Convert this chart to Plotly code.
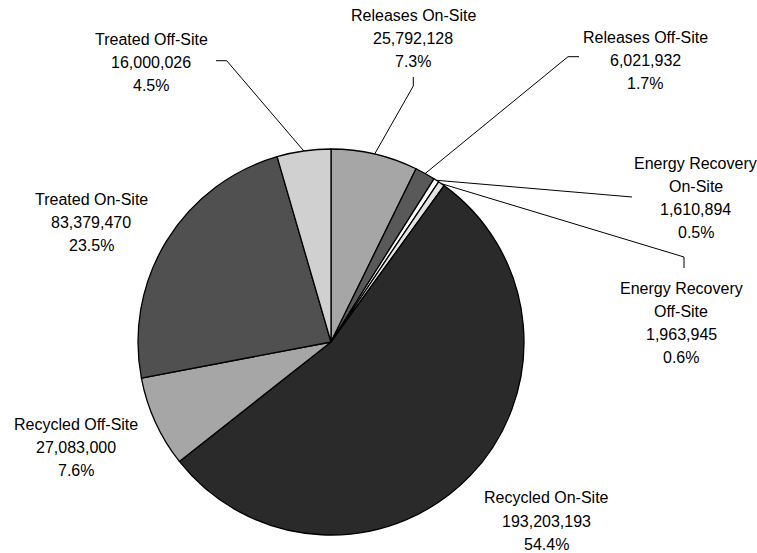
import math
import plotly.graph_objects as go

# Production-related waste by management method (pounds)
categories = [
    "Releases On-Site",
    "Releases Off-Site",
    "Energy Recovery On-Site",
    "Energy Recovery Off-Site",
    "Recycled On-Site",
    "Recycled Off-Site",
    "Treated On-Site",
    "Treated Off-Site",
]
values = [25792128, 6021932, 1610894, 1963945, 193203193, 27083000, 83379470, 16000026]
name_lines = [
    ["Releases On-Site"],
    ["Releases Off-Site"],
    ["Energy Recovery", "On-Site"],
    ["Energy Recovery", "Off-Site"],
    ["Recycled On-Site"],
    ["Recycled Off-Site"],
    ["Treated On-Site"],
    ["Treated Off-Site"],
]
slice_colors = ["#a6a6a6", "#595959", "#ffffff", "#e3e3e3",
                "#2a2a2a", "#a6a6a6", "#505050", "#d0d0d0"]

W, H = 757, 553
CX, CY, R = 331, 342, 193          # pie centre and radius, in pixels

# label block: centre x, first-line y (pixels)
label_pos = [
    (413.5, 15.5), (645, 37.5), (695.5, 163.5), (681, 288),
    (546, 498), (75.5, 424.5), (91, 199.5), (151, 39.5),
]
LINE_STEP = 23

# leader-line bend points (pixels), listed from the label side toward the pie
leader_bends = {
    0: [(413.3, 77), (413.3, 86)],
    1: [(579, 56.7), (568, 56.7)],
    2: [(632, 197)],
    3: [(684, 268), (684, 257)],
    7: [(216, 60.7), (226.7, 60.7)],
}


def px(x):
    return x / W


def py(y):
    return 1 - y / H


total = sum(values)

fig = go.Figure(go.Pie(
    labels=categories,
    values=values,
    sort=False,
    direction="clockwise",
    rotation=0,
    marker=dict(colors=slice_colors, line=dict(color="#000000", width=1.3)),
    textinfo="none",
    hoverinfo="label+value+percent",
    showlegend=False,
    domain=dict(x=[px(CX - R), px(CX + R)], y=[py(CY + R), py(CY - R)]),
))

annotations = []
shapes = []
cum = 0
for i, (lines, v) in enumerate(zip(name_lines, values)):
    mid = (cum + v / 2) / total
    cum += v
    text_lines = lines + [f"{v:,}", f"{100 * v / total:.1f}%"]
    lx, ly = label_pos[i]
    for k, t in enumerate(text_lines):
        annotations.append(dict(
            x=px(lx), y=py(ly + k * LINE_STEP), xref="paper", yref="paper",
            text=t, showarrow=False, xanchor="center", yanchor="middle",
            font=dict(family="Liberation Sans, Arial, sans-serif", size=16, color="#000000"),
        ))
    if i in leader_bends:
        ang = 2 * math.pi * mid
        ex = CX + R * math.sin(ang)
        ey = CY - R * math.cos(ang)
        pts = leader_bends[i] + [(ex, ey)]
        for (x0, y0), (x1, y1) in zip(pts[:-1], pts[1:]):
            shapes.append(dict(
                type="line", xref="paper", yref="paper",
                x0=px(x0), y0=py(y0), x1=px(x1), y1=py(y1),
                line=dict(color="#000000", width=1),
            ))

fig.update_layout(
    width=W, height=H,
    margin=dict(l=0, r=0, t=0, b=0),
    paper_bgcolor="#ffffff",
    plot_bgcolor="#ffffff",
    annotations=annotations,
    shapes=shapes,
)

fig.write_html("out.html")
